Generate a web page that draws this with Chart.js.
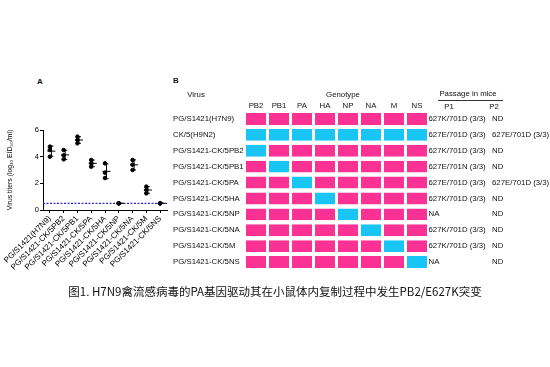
<!DOCTYPE html>
<html>
<head>
<meta charset="utf-8">
<script src="https://cdn.jsdelivr.net/npm/chart.js@4"></script>
<style>
  body { margin: 0; background: #fff; width: 550px; height: 367px; position: relative; overflow: hidden; font-family: "Liberation Sans", Arial, sans-serif; }
  canvas { position: absolute; }
  #titer { left: 0; top: 120px; }
  #geno { left: 160px; top: 70px; }
  .panel { position: absolute; font-weight: bold; font-size: 8px; color: #111; }
  #caption { position: absolute; left: 0; width: 550px; top: 283px; text-align: center; font-family: "Noto Sans CJK SC"; font-size: 11.5px; color: #111; }
</style>
</head>
<body>
<div class="panel" style="left:37px;top:77px">A</div>
<canvas id="titer" width="172" height="160"></canvas>
<canvas id="geno" width="390" height="215"></canvas>
<div id="caption">图1. H7N9禽流感病毒的PA基因驱动其在小鼠体内复制过程中发生PB2/E627K突变</div>
<script>
// panel A: virus titers, three mice per virus
const viruses = ['PG/S1421(H7N9)', 'PG/S1421-CK/5PB2', 'PG/S1421-CK/5PB1', 'PG/S1421-CK/5PA', 'PG/S1421-CK/5HA',
                 'PG/S1421-CK/5NP', 'PG/S1421-CK/5NA', 'PG/S1421-CK/5M', 'PG/S1421-CK/5NS'];
const rep1 = [4.75, 4.5, 5.5, 3.75, 3.5, 0.5, 3.75, 1.75, 0.5];
const rep2 = [4.5, 4.1, 5.25, 3.5, 2.8, 0.5, 3.4, 1.5, 0.5];
const rep3 = [4.0, 3.8, 5.0, 3.25, 2.4, 0.5, 3.0, 1.25, 0.5];
const detectionLimit = 0.5;
const yTicks = [0, 2, 4, 6];

// panel B: genotype table
const tableViruses = ['PG/S1421(H7N9)', 'CK/5(H9N2)', 'PG/S1421-CK/5PB2', 'PG/S1421-CK/5PB1', 'PG/S1421-CK/5PA',
                      'PG/S1421-CK/5HA', 'PG/S1421-CK/5NP', 'PG/S1421-CK/5NA', 'PG/S1421-CK/5M', 'PG/S1421-CK/5NS'];
const genes = ['PB2', 'PB1', 'PA', 'HA', 'NP', 'NA', 'M', 'NS'];
// 0 = segment from PG/S1421 (H7N9), 1 = segment from CK/5 (H9N2)
const genotype = [
  [0, 0, 0, 0, 0, 0, 0, 0],
  [1, 1, 1, 1, 1, 1, 1, 1],
  [1, 0, 0, 0, 0, 0, 0, 0],
  [0, 1, 0, 0, 0, 0, 0, 0],
  [0, 0, 1, 0, 0, 0, 0, 0],
  [0, 0, 0, 1, 0, 0, 0, 0],
  [0, 0, 0, 0, 1, 0, 0, 0],
  [0, 0, 0, 0, 0, 1, 0, 0],
  [0, 0, 0, 0, 0, 0, 1, 0],
  [0, 0, 0, 0, 0, 0, 0, 1]
];
const passage1 = ['627K/701D (3/3)', '627E/701D (3/3)', '627K/701D (3/3)', '627E/701N (3/3)', '627E/701D (3/3)',
                  '627K/701D (3/3)', 'NA', '627K/701D (3/3)', '627K/701D (3/3)', 'NA'];
const passage2 = ['ND', '627E/701D (3/3)', 'ND', 'ND', '627E/701D (3/3)', 'ND', 'ND', 'ND', 'ND', 'ND'];

const palette = ['#fb3294', '#19c5f5'];
const FONT = 'Liberation Sans';

// error bars (mean +/- SD) and the detection limit line
const errorBars = {
  id: 'errorBars',
  beforeDatasetsDraw(chart) {
    const { ctx, chartArea, scales: { y } } = chart;
    const yl = y.getPixelForValue(detectionLimit);
    ctx.save();
    ctx.strokeStyle = '#2a2ad8';
    ctx.lineWidth = 1.3;
    ctx.setLineDash([2, 1.5]);
    ctx.beginPath();
    ctx.moveTo(chartArea.left, yl);
    ctx.lineTo(chartArea.right, yl);
    ctx.stroke();
    ctx.restore();
  },
  afterDatasetsDraw(chart) {
    const { ctx, scales: { x, y } } = chart;
    ctx.save();
    ctx.strokeStyle = '#000';
    ctx.lineWidth = 1;
    viruses.forEach((v, i) => {
      const vals = [rep1[i], rep2[i], rep3[i]];
      const m = vals.reduce((a, b) => a + b, 0) / vals.length;
      const sd = Math.sqrt(vals.reduce((a, b) => a + (b - m) * (b - m), 0) / (vals.length - 1));
      const px = x.getPixelForValue(i) + 1.5;
      const top = y.getPixelForValue(m + sd), bot = y.getPixelForValue(m - sd), mid = y.getPixelForValue(m);
      ctx.beginPath();
      ctx.moveTo(px, top); ctx.lineTo(px, bot);
      ctx.moveTo(px - 2, top); ctx.lineTo(px + 2, top);
      ctx.moveTo(px - 2, bot); ctx.lineTo(px + 2, bot);
      ctx.moveTo(px - 4, mid); ctx.lineTo(px + 4, mid);
      ctx.stroke();
    });
    ctx.restore();
  }
};

const points = viruses.flatMap((v, i) => [rep1[i], rep2[i], rep3[i]].map(val => ({ x: v, y: val })));

new Chart(document.getElementById('titer'), {
  type: 'scatter',
  data: {
    labels: viruses,
    datasets: [{ data: points, backgroundColor: '#000', borderColor: '#000', pointRadius: 1.8 }]
  },
  options: {
    responsive: false,
    animation: false,
    devicePixelRatio: 1,
    layout: { padding: { top: 10, right: 4, left: 0, bottom: 0 } },
    plugins: { legend: { display: false }, tooltip: { enabled: false } },
    scales: {
      x: {
        type: 'category',
        offset: true,
        grid: { drawOnChartArea: false, tickLength: 3, color: '#000' },
        border: { color: '#000' },
        ticks: { font: { family: FONT, size: 8 }, color: '#000', minRotation: 45, maxRotation: 45, padding: 1, autoSkip: false },
        afterFit(s) { s.height = 70; }
      },
      y: {
        min: 0,
        max: 6,
        afterBuildTicks(s) { s.ticks = yTicks.map(v => ({ value: v })); },
        grid: { drawOnChartArea: false, tickLength: 3, color: '#000' },
        border: { color: '#000' },
        ticks: { font: { family: FONT, size: 7.5 }, color: '#000', padding: 1 },
        title: { display: true, text: 'Virus titers (log₁₀ EID₅₀/ml)', font: { family: FONT, size: 6.8 }, color: '#000', padding: { top: 6, bottom: 0 } },
        afterFit(s) { s.width = 43; }
      }
    }
  },
  plugins: [errorBars]
});

// headers and passage columns for panel B
const tableText = {
  id: 'tableText',
  afterDraw(chart) {
    const { ctx, chartArea, scales: { y } } = chart;
    ctx.save();
    ctx.fillStyle = '#111';
    ctx.textBaseline = 'middle';
    ctx.font = 'bold 8px "' + FONT + '"';
    ctx.textAlign = 'left';
    ctx.fillText('B', 13, 11);
    ctx.font = '7.8px "' + FONT + '"';
    ctx.textAlign = 'center';
    ctx.fillText('Virus', 36, 25);
    ctx.fillText('Genotype', 183, 25);
    ctx.fillText('Passage in mice', 308, 24);
    ctx.fillText('P1', 289, 37);
    ctx.fillText('P2', 334, 37);
    ctx.strokeStyle = '#333';
    ctx.lineWidth = 1;
    ctx.beginPath();
    ctx.moveTo(278, 30.5); ctx.lineTo(343, 30.5);
    ctx.stroke();
    ctx.textAlign = 'left';
    tableViruses.forEach((v, i) => {
      const py = y.getPixelForValue(i);
      ctx.fillText(passage1[i], chartArea.right, py);
      ctx.fillText(passage2[i], 332, py);
    });
    ctx.restore();
  }
};

new Chart(document.getElementById('geno'), {
  type: 'bar',
  data: {
    labels: tableViruses,
    datasets: genes.map((g, j) => ({
      label: g,
      data: tableViruses.map(() => 1),
      backgroundColor: genotype.map(row => palette[row[j]]),
      borderColor: '#fff',
      borderWidth: { left: 1.5, right: 1.5, top: 0, bottom: 0 },
      borderSkipped: false,
      barPercentage: 0.75,
      categoryPercentage: 1
    }))
  },
  options: {
    indexAxis: 'y',
    responsive: false,
    animation: false,
    devicePixelRatio: 1,
    layout: { padding: { top: 0, left: 13, right: 121.5, bottom: 15 } },
    plugins: { legend: { display: false }, tooltip: { enabled: false } },
    scales: {
      x: { stacked: true, min: 0, max: genes.length, display: false },
      gene: {
        axis: 'x',
        type: 'category',
        labels: genes,
        position: 'top',
        offset: true,
        grid: { display: false, drawTicks: false, tickLength: 0 },
        border: { display: false },
        ticks: { font: { family: FONT, size: 7.8 }, color: '#111', padding: 0 },
        afterFit(s) { s.height = 41; }
      },
      y: {
        stacked: true,
        grid: { display: false },
        border: { display: false },
        ticks: { font: { family: FONT, size: 7.8 }, color: '#111', crossAlign: 'far', padding: 0, autoSkip: false },
        afterFit(s) { s.width = 71.5; }
      }
    }
  },
  plugins: [tableText]
});
</script>
</body>
</html>
